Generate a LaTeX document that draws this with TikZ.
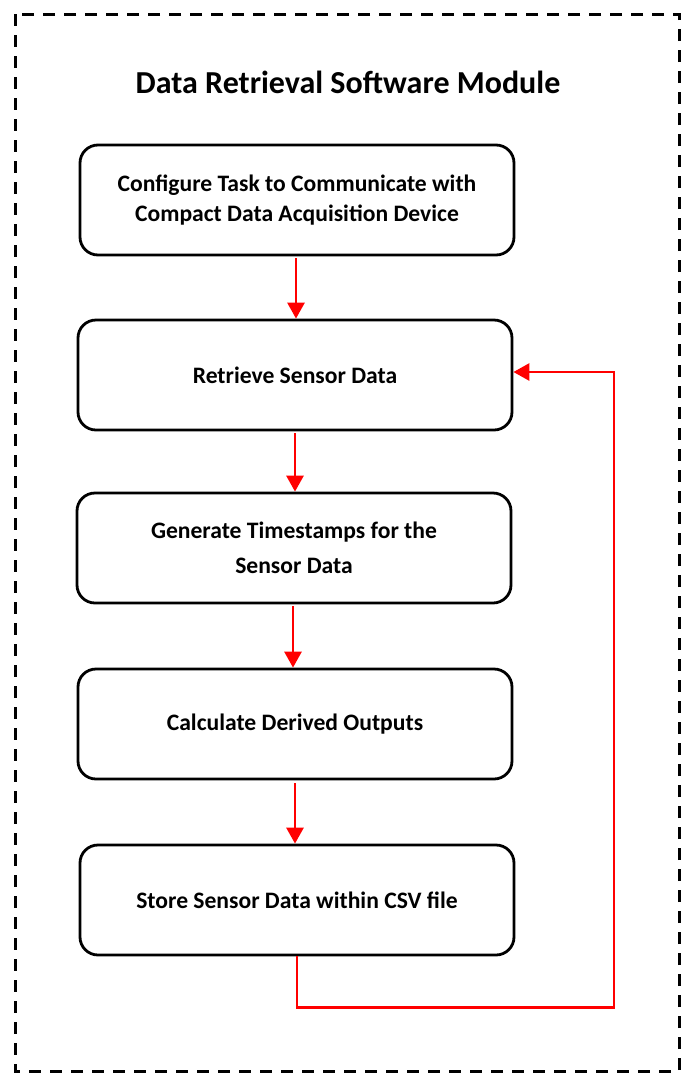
\documentclass[tikz,border=0pt]{standalone}
\usepackage{fontspec}
\setmainfont{Carlito}
\usetikzlibrary{arrows.meta}
\begin{document}
\begin{tikzpicture}[x=1pt,y=-1pt,
  stepbox/.style={draw=black,line width=2.8pt,rounded corners=18pt,minimum width=434pt,minimum height=110pt,inner sep=0pt,align=center,font=\fontsize{23.6}{30}\selectfont\bfseries},
  arr/.style={draw=red,line width=2.8pt,-{Triangle[length=16pt,width=17pt]}},
  frame/.style={draw=black,line width=3pt,dash pattern=on 12pt off 9pt}]
\useasboundingbox (0,0) rectangle (696,1085);
\draw[frame] (15,14) rectangle (679,1071);
\node (title) at (348,82) {\fontsize{32}{36}\selectfont\bfseries Data Retrieval Software Module};
\node[stepbox] (b1) at (297,200) {Configure Task to Communicate with\\Compact Data Acquisition Device};
\node[stepbox] (b2) at (295,375) {Retrieve Sensor Data};
\node[stepbox] (b3) at (294,548) {Generate Timestamps for the\\[5pt]Sensor Data};
\node[stepbox] (b4) at (295,724) {Calculate Derived Outputs};
\node[stepbox] (b5) at (297,900) {Store Sensor Data within CSV file};
\draw[arr,shorten <=2pt] ([xshift=-1pt]b1.south) -- ([xshift=-1pt]b1.south |- b2.north);
\draw[arr,shorten <=2pt] (b2.south) -- (b2.south |- b3.north);
\draw[arr,shorten <=2pt] ([xshift=-1pt]b3.south) -- ([xshift=-1pt]b3.south |- b4.north);
\draw[arr,shorten <=3pt] (b4.south) -- (b4.south |- b5.north);
\coordinate (c) at (614,372);
\draw[arr] (b5.south) -- ++(0,51) -| (c) -- (b2.east |- c);
\end{tikzpicture}
\end{document}
